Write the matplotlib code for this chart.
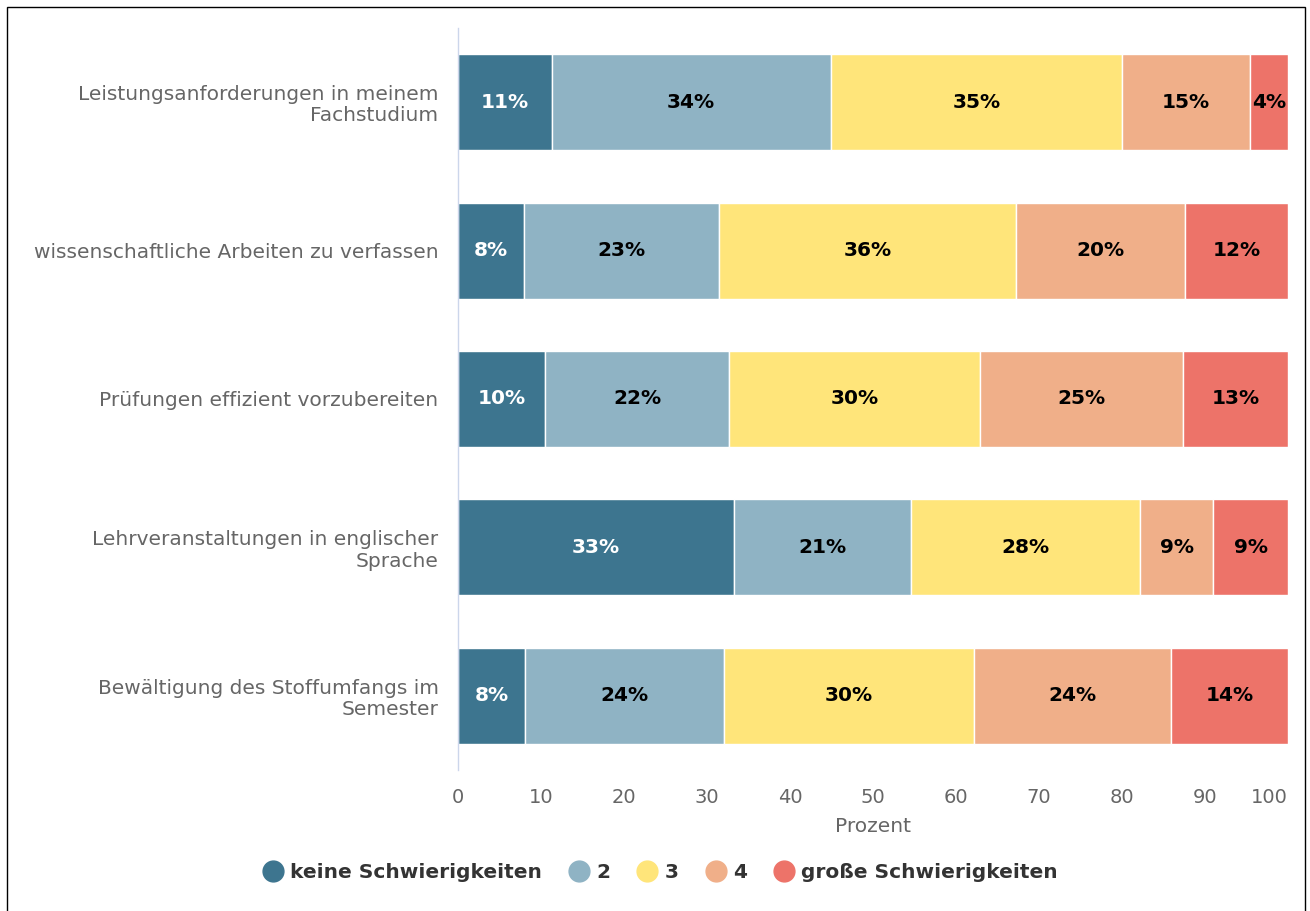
import matplotlib.pyplot as plt
from matplotlib.lines import Line2D
from matplotlib.patches import Rectangle

categories = ["Leistungsanforderungen in meinem\nFachstudium",
              "wissenschaftliche Arbeiten zu verfassen",
              "Prüfungen effizient vorzubereiten",
              "Lehrveranstaltungen in englischer\nSprache",
              "Bewältigung des Stoffumfangs im\nSemester"]
series_names = ["keine Schwierigkeiten", "2", "3", "4", "große Schwierigkeiten"]

# shares per answer level (columns = categories)
keine = [11.3, 8.0, 10.5, 33.3, 8.1]
stufe2 = [33.6, 23.5, 22.2, 21.3, 23.9]
stufe3 = [35.1, 35.7, 30.2, 27.6, 30.2]
stufe4 = [15.4, 20.4, 24.5, 8.8, 23.7]
gross = [4.6, 12.4, 12.6, 9.0, 14.1]

# percentages shown in the bars
lab_keine = [11, 8, 10, 33, 8]
lab_2 = [34, 23, 22, 21, 24]
lab_3 = [35, 36, 30, 28, 30]
lab_4 = [15, 20, 25, 9, 24]
lab_gross = [4, 12, 13, 9, 14]

series = [keine, stufe2, stufe3, stufe4, gross]
labels = [lab_keine, lab_2, lab_3, lab_4, lab_gross]
colors = ["#3d758f", "#8fb3c4", "#ffe57a", "#f0af89", "#ed7369"]
text_colors = ["white", "black", "black", "black", "black"]

fig = plt.figure(figsize=(13.1, 9.11), dpi=100)
ax = fig.add_axes([458/1310, 1 - 770/911, 830/1310, 742/911])

ypos = list(range(len(categories)))
left = [0.0] * len(categories)
for vals, labs, col, tc in zip(series, labels, colors, text_colors):
    bars = ax.barh(ypos, vals, left=left, height=0.646, color=col,
                   edgecolor="white", linewidth=1)
    for b, l in zip(bars, labs):
        ax.text(b.get_x() + b.get_width() / 2, b.get_y() + b.get_height() / 2,
                f"{l}%", ha="center", va="center", color=tc,
                fontsize=14.5, fontweight="bold")
    left = [a + b for a, b in zip(left, vals)]

ax.set_xlim(0, 100)
ax.set_ylim(4.5, -0.5)
ax.set_yticks(ypos)
ax.set_yticklabels(categories, fontsize=14.5, color="#666666", linespacing=1.15)
ax.set_xticks(range(0, 101, 10))
ax.tick_params(axis="both", length=0)
ax.tick_params(axis="x", labelsize=14, labelcolor="#666666", pad=13)
ax.tick_params(axis="y", pad=14)
ax.get_xticklabels()[-1].set_horizontalalignment("right")
ax.set_xlabel("Prozent", fontsize=14.5, color="#666666", labelpad=7)
for s in ["top", "right", "bottom"]:
    ax.spines[s].set_visible(False)
ax.spines["left"].set_color("#ccd6eb")
ax.spines["left"].set_linewidth(1)

handles = [Line2D([], [], marker="o", linestyle="", markersize=15,
                  markerfacecolor=c, markeredgecolor=c) for c in colors]
leg = fig.legend(handles, series_names, loc="center", bbox_to_anchor=(0.5, 1 - 873/911),
                 ncol=5, frameon=False, handletextpad=-0.15, columnspacing=0.85,
                 prop={"size": 14.5, "weight": "bold"})
for t in leg.get_texts():
    t.set_color("#333333")

fig.patches.append(Rectangle((7/1310, -0.01), 1298/1310, 1 - 7/911 + 0.01,
                             transform=fig.transFigure, fill=False,
                             edgecolor="black", linewidth=1))

fig.savefig("out.png", dpi=100)
